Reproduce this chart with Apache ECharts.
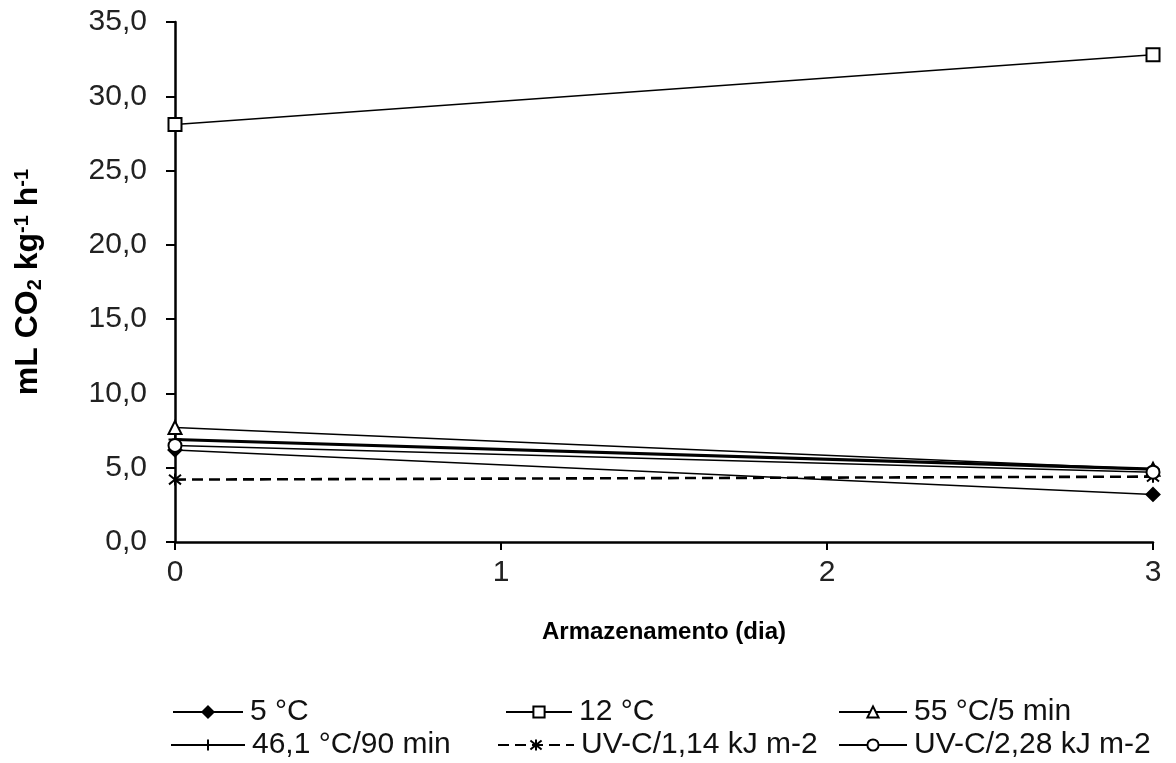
<!DOCTYPE html>
<html>
<head>
<meta charset="utf-8">
<script src="https://cdn.jsdelivr.net/npm/echarts@6/dist/echarts.min.js"></script>
<style>
  html, body { margin: 0; padding: 0; background: #fff; }
  #chart { width: 1176px; height: 763px; }
</style>
</head>
<body>
<div id="chart"></div>
<script>
// Storage days and respiration rate (mL CO2 kg-1 h-1) per treatment
const days = [0, 3];
const seriesNames = ['5 °C', '12 °C', '55 °C/5 min', '46,1 °C/90 min', 'UV-C/1,14 kJ m-2', 'UV-C/2,28 kJ m-2'];
const t5C = [6.2, 3.2];
const t12C = [28.1, 32.8];
const t55C5min = [7.7, 4.9];
const t46C90min = [6.9, 4.9];
const uvc114 = [4.2, 4.4];
const uvc228 = [6.5, 4.7];
const yTicks = { min: 0, max: 35, step: 5 };
const xTicks = { min: 0, max: 3, step: 1 };

const FONT = '"Liberation Sans", Arial, sans-serif';
const plusPath = 'path://M0,5L10,5M5,0L5,10';
const starPath = 'path://M1,1L9,9M9,1L1,9M5,0L5,10';

function pairs(vals) { return days.map((d, i) => [d, vals[i]]); }

const styles = [
  { data: t5C, symbol: 'diamond', size: 13, fill: '#000', width: 1.5 },
  { data: t12C, symbol: 'rect', size: 13, fill: '#fff', width: 1.5 },
  { data: t55C5min, symbol: 'triangle', size: 13, fill: '#fff', width: 1.5 },
  { data: t46C90min, symbol: plusPath, size: 13, fill: '#000', width: 3.2 },
  { data: uvc114, symbol: starPath, size: 12, fill: '#000', width: 2.6, dash: [11, 6] },
  { data: uvc228, symbol: 'circle', size: 13, fill: '#fff', width: 1.5 }
];

const series = styles.map((s, i) => ({
  name: seriesNames[i],
  type: 'line',
  data: pairs(s.data),
  symbol: s.symbol,
  symbolSize: s.size,
  showAllSymbol: true,
  animation: false,
  lineStyle: { color: '#000', width: s.width, type: s.dash ? s.dash : 'solid' },
  itemStyle: { color: s.fill, borderColor: '#000', borderWidth: 2 },
  emphasis: { disabled: true }
}));

// Legend laid out as a 3x2 grid, one legend component per entry
const legendPos = [
  { left: 172, top: 697, w: 70 },
  { left: 505, top: 697, w: 66 },
  { left: 838, top: 697, w: 68 },
  { left: 170, top: 730, w: 74 },
  { left: 497, top: 730, w: 76 },
  { left: 838, top: 730, w: 68 }
];
const legends = legendPos.map((p, i) => ({
  data: [seriesNames[i]],
  left: p.left,
  top: p.top,
  itemWidth: p.w,
  itemHeight: 14,
  padding: 0,
  selectedMode: false,
  textStyle: { fontFamily: FONT, fontSize: 30, color: '#111', padding: [0, 0, 0, 2] }
}));

const chart = echarts.init(document.getElementById('chart'), null, { renderer: 'canvas' });
chart.setOption({
  backgroundColor: '#fff',
  animation: false,
  grid: { left: 175, right: 23, top: 22, bottom: 221, containLabel: false },
  legend: legends,
  xAxis: {
    type: 'value',
    min: xTicks.min,
    max: xTicks.max,
    interval: xTicks.step,
    name: 'Armazenamento (dia)',
    nameLocation: 'middle',
    nameGap: 78,
    nameTextStyle: { fontFamily: FONT, fontSize: 24, fontWeight: 'bold', color: '#000' },
    axisLine: { lineStyle: { color: '#000', width: 2.5 } },
    axisTick: { show: true, inside: false, length: 8, lineStyle: { color: '#000', width: 2 } },
    axisLabel: { fontFamily: FONT, fontSize: 30, color: '#222', margin: 16 },
    splitLine: { show: false }
  },
  yAxis: {
    type: 'value',
    min: yTicks.min,
    max: yTicks.max,
    interval: yTicks.step,
    name: '{b|mL CO}{sub|2}{b| kg}{sup|-1}{b| h}{sup|-1}',
    nameLocation: 'middle',
    nameRotate: 90,
    nameGap: 130,
    nameTextStyle: {
      fontFamily: FONT, fontSize: 32, fontWeight: 'bold', color: '#000',
      rich: {
        b: { fontFamily: FONT, fontSize: 32, fontWeight: 'bold', color: '#000' },
        sub: { fontFamily: FONT, fontSize: 20, fontWeight: 'bold', color: '#000', padding: [13, 0, 0, 0] },
        sup: { fontFamily: FONT, fontSize: 20, fontWeight: 'bold', color: '#000', padding: [0, 0, 13, 0] }
      }
    },
    axisLine: { show: true, lineStyle: { color: '#000', width: 2.5 } },
    axisTick: { show: true, inside: false, length: 9, lineStyle: { color: '#000', width: 2 } },
    axisLabel: {
      fontFamily: FONT, fontSize: 30, color: '#222', margin: 28,
      formatter: v => v.toFixed(1).replace('.', ',')
    },
    splitLine: { show: false }
  },
  series: series
});
</script>
</body>
</html>
